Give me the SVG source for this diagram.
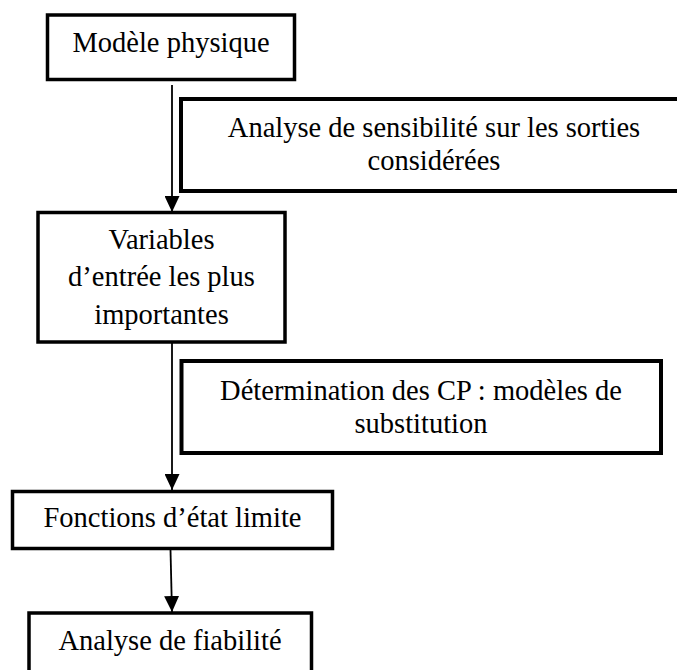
<svg xmlns="http://www.w3.org/2000/svg" width="677" height="670" viewBox="0 0 677 670">
<style>
.box{fill:#fff;stroke:#000;stroke-width:3.5}
.side{fill:#fff;stroke:#000;stroke-width:4}
.t{font-family:"Liberation Serif","Times New Roman",serif;font-size:28.5px;fill:#000;text-anchor:middle}
.c{stroke:#000;stroke-width:1.8;fill:none;marker-end:url(#ah)}
</style>
<defs>
<marker id="ah" markerUnits="userSpaceOnUse" markerWidth="16" markerHeight="15" viewBox="0 0 16 15" refX="16" refY="7.5" orient="auto">
<path d="M0,0 L16,7.5 L0,15 Z" fill="#000"/>
</marker>
</defs>
<rect width="677" height="670" fill="#fff"/>
<g id="connectors">
<line class="c" x1="172" y1="85" x2="172" y2="212"/>
<line class="c" x1="172" y1="343" x2="172" y2="490"/>
<line class="c" x1="170.5" y1="550" x2="172" y2="612"/>
</g>
<g id="n1">
<rect class="box" x="47.5" y="15" width="247" height="64.5"/>
<text class="t" x="171" y="52">Modèle physique</text>
</g>
<g id="n2">
<rect class="side" x="181" y="99" width="520" height="92"/>
<text class="t" x="434" y="137">Analyse de sensibilité sur les sorties</text>
<text class="t" x="434" y="170">considérées</text>
</g>
<g id="n3">
<rect class="box" x="38" y="212.5" width="247" height="129.5"/>
<text class="t" x="161.5" y="249">Variables</text>
<text class="t" x="161.5" y="286">d’entrée les plus</text>
<text class="t" x="161.5" y="324">importantes</text>
</g>
<g id="n4">
<rect class="side" x="181.5" y="361" width="479.5" height="92"/>
<text class="t" x="421" y="400">Détermination des CP : modèles de</text>
<text class="t" x="421" y="433">substitution</text>
</g>
<g id="n5">
<rect class="box" x="12.5" y="491.5" width="320" height="57"/>
<text class="t" x="172.5" y="527">Fonctions d’état limite</text>
</g>
<g id="n6">
<rect class="box" x="29" y="613" width="282.5" height="80"/>
<text class="t" x="170" y="650">Analyse de fiabilité</text>
</g>
</svg>
